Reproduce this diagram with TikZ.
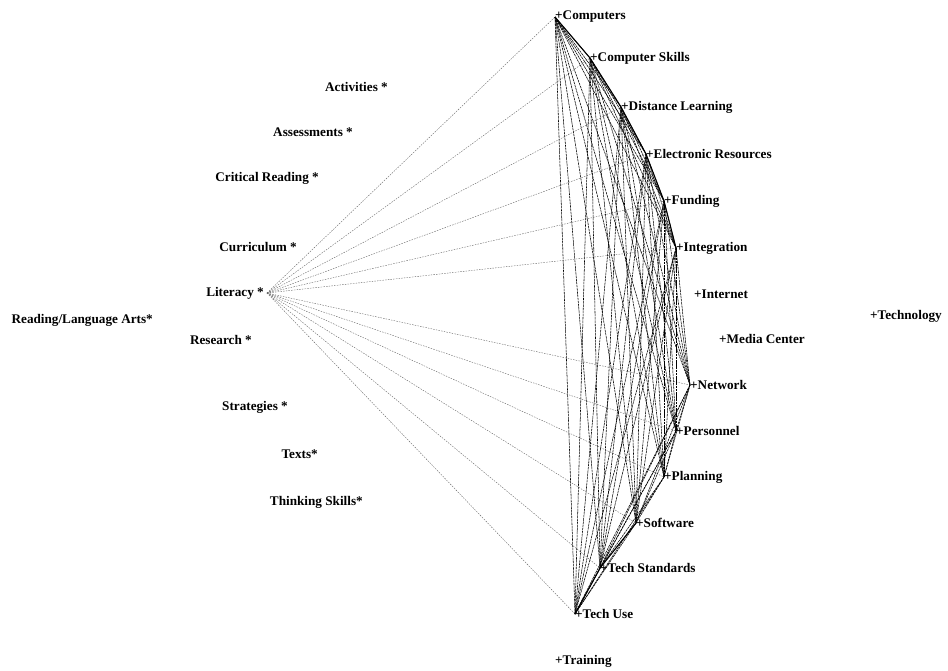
\documentclass[tikz,border=0pt]{standalone}
\usepackage{fontspec}
\setmainfont{Liberation Serif}
\begin{document}
\begin{tikzpicture}[x=1pt,y=-1pt,
  lab/.style={font=\fontsize{13.2}{15}\selectfont\bfseries, inner sep=0pt},
  rlab/.style={lab, anchor=west},
  llab/.style={lab, anchor=east},
  edge/.style={black, line width=0.55pt, dash pattern=on 2.5pt off 0.7pt},
  hull/.style={black, line width=1.1pt},
  ledge/.style={black!60, line width=0.4pt, dash pattern=on 1.5pt off 1.2pt}]
\useasboundingbox (0,0) rectangle (948,670);
% left labels
\node[llab] (act) at (388,87) {Activities *};
\node[llab] (ass) at (353,132) {Assessments *};
\node[llab] (crit) at (319,178) {Critical Reading *};
\node[llab] (curr) at (297,247) {Curriculum *};
\node[llab] (lit) at (264,293) {Literacy *};
\node[llab] (rla) at (153,320) {Reading/Language Arts*};
\node[llab] (res) at (252,340) {Research *};
\node[llab] (str) at (288,407) {Strategies *};
\node[llab] (txt) at (318,454) {Texts*};
\node[llab] (thk) at (363,502) {Thinking Skills*};
\coordinate (L) at (267,293);
% right labels
\node[rlab] (c1) at (555,17) {+Computers};
\node[rlab] (c2) at (590,58) {+Computer Skills};
\node[rlab] (c3) at (621,107) {+Distance Learning};
\node[rlab] (c4) at (646,154) {+Electronic Resources};
\node[rlab] (c5) at (664,201) {+Funding};
\node[rlab] (c6) at (676,248) {+Integration};
\node[rlab] (inet) at (694,294) {+Internet};
\node[rlab] (media) at (719,339) {+Media Center};
\node[rlab] (tech) at (870,316) {+Technology};
\node[rlab] (c7) at (690,385) {+Network};
\node[rlab] (c8) at (676,431) {+Personnel};
\node[rlab] (c9) at (664,477) {+Planning};
\node[rlab] (c10) at (636,523) {+Software};
\node[rlab] (c11) at (600,568) {+Tech Standards};
\node[rlab] (c12) at (575,614) {+Tech Use};
\node[rlab] (trn) at (555,661) {+Training};
% edges from Literacy
\foreach \i in {1,...,12} \draw[ledge] (L) -- (c\i.west);
% complete web among technology nodes
\foreach \i in {1,...,11} {
  \pgfmathtruncatemacro{\s}{\i+1}
  \foreach \j in {\s,...,12} \draw[edge] (c\i.west) -- (c\j.west);
}
% heavy outer chain
\draw[hull] (c1.west) -- (c2.west) -- (c3.west) -- (c4.west) -- (c5.west) -- (c6.west);
\draw[hull] (c10.west) -- (c11.west) -- (c12.west);
\end{tikzpicture}
\end{document}
